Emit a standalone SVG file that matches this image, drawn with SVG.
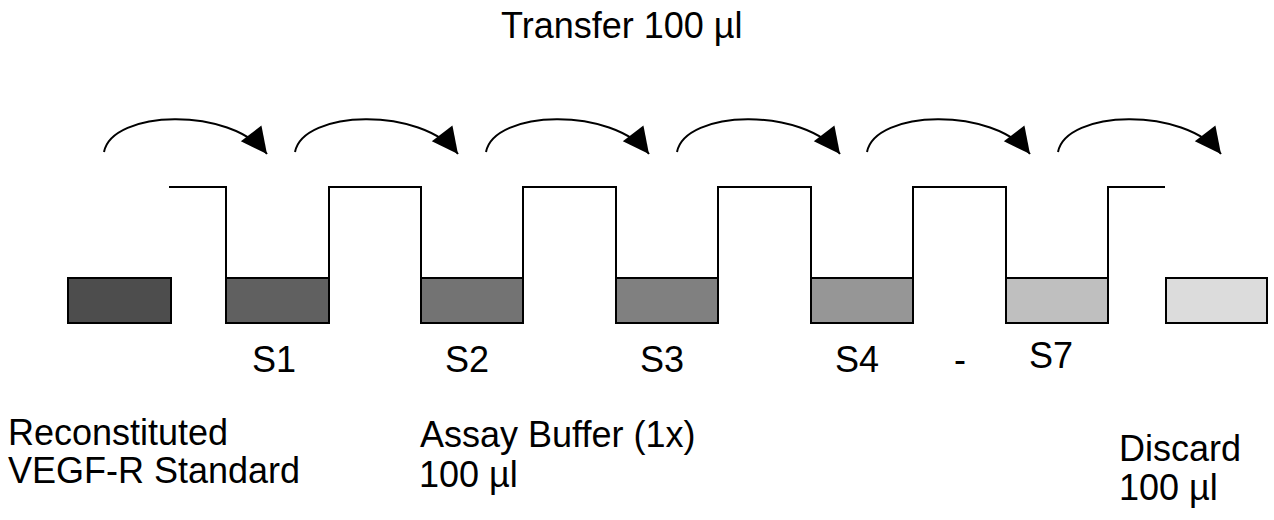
<svg xmlns="http://www.w3.org/2000/svg" width="1274" height="520" viewBox="0 0 1274 520">
<style>
  text { font-family: "Liberation Sans", Arial, sans-serif; font-size: 36px; fill: #000; }
  .tube { stroke: #000; stroke-width: 2; }
  .arc { fill: none; stroke: #000; stroke-width: 2; marker-end: url(#head); }
  .wall { fill: none; stroke: #000; stroke-width: 2; stroke-linejoin: miter; }
</style>
<defs>
  <marker id="head" markerUnits="userSpaceOnUse" markerWidth="27" markerHeight="27" refX="26" refY="13" orient="auto" overflow="visible">
    <path d="M0,0 L26,13 L0,26 z" fill="#000"/>
  </marker>
</defs>
<rect width="1274" height="520" fill="#fff"/>

<text id="title" x="501" y="38">Transfer 100 µl</text>

<g id="connectors">
  <path class="wall" d="M169,187 H226 V278 M329,278 V187 H421 V278 M523,278 V187 H616 V278 M718,278 V187 H811 V278 M913,278 V187 H1006 V278 M1108,278 V187 H1165"/>
  <path class="arc" d="M104,152 c8,-42 126,-46 163,2"/>
  <path class="arc" d="M295,152 c8,-42 126,-46 163,2"/>
  <path class="arc" d="M486,152 c8,-42 126,-46 163,2"/>
  <path class="arc" d="M677,152 c8,-42 126,-46 163,2"/>
  <path class="arc" d="M867,152 c8,-42 126,-46 163,2"/>
  <path class="arc" d="M1058,152 c8,-42 126,-46 163,2"/>
</g>

<g id="standard">
  <rect class="tube" x="68" y="278" width="103" height="45" fill="#4d4d4d"/>
  <text x="8" y="445">Reconstituted</text>
  <text x="8" y="483">VEGF-R Standard</text>
</g>
<g id="s1">
  <rect class="tube" x="226" y="278" width="103" height="45" fill="#606060"/>
  <text x="252" y="372">S1</text>
</g>
<g id="s2">
  <rect class="tube" x="421" y="278" width="102" height="45" fill="#737373"/>
  <text x="445" y="372">S2</text>
</g>
<g id="s3">
  <rect class="tube" x="616" y="278" width="102" height="45" fill="#808080"/>
  <text x="640" y="372">S3</text>
</g>
<g id="s4">
  <rect class="tube" x="811" y="278" width="102" height="45" fill="#969696"/>
  <text x="835" y="372">S4</text>
</g>
<text id="dash" x="954" y="372">-</text>
<g id="s7">
  <rect class="tube" x="1006" y="278" width="102" height="45" fill="#bfbfbf"/>
  <text x="1029" y="368">S7</text>
</g>
<g id="discard">
  <rect class="tube" x="1166" y="278" width="101" height="45" fill="#dcdcdc"/>
  <text x="1119" y="461">Discard</text>
  <text x="1119" y="500">100 µl</text>
</g>
<g id="buffer">
  <text x="420" y="447">Assay Buffer (1x)</text>
  <text x="419" y="487">100 µl</text>
</g>
</svg>
